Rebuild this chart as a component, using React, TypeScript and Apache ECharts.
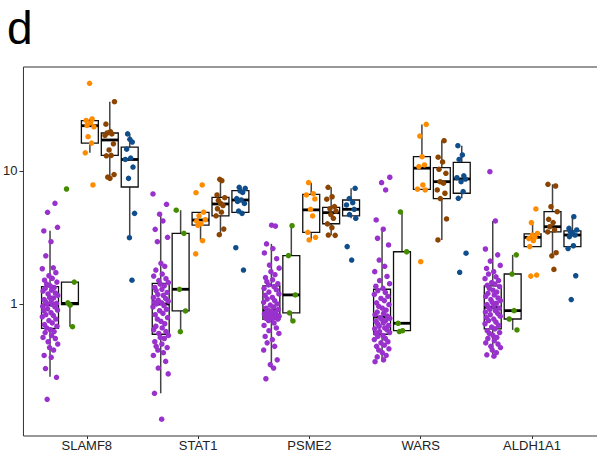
import React, { useEffect, useRef } from "react";
import * as echarts from "echarts";

const GENES = ["SLAMF8", "STAT1", "PSME2", "WARS", "ALDH1A1"];
const GROUP_COLORS = ["#9932CC", "#458B00", "#FF8C00", "#8B4500", "#104E8B"];

// Individual points per group, one list per gene (order of GENES)
const PURPLE_POINTS: number[][] = [
  [5.71, 4.89, 3.77, 3.54, 2.94, 2.3, 1.87, 1.84, 1.72, 1.63, 1.56, 1.51, 1.46, 1.41, 1.37,
   1.33, 1.31, 1.27, 1.25, 1.21, 1.19, 1.16, 1.12, 1.11, 1.08, 1.05, 1.04, 1.01, 1.0, 0.99,
   0.96, 0.95, 0.92, 0.9, 0.89, 0.86, 0.83, 0.82, 0.8, 0.77, 0.75, 0.72, 0.7, 0.68, 0.66,
   0.64, 0.62, 0.61, 0.58, 0.56, 0.55, 0.52, 0.5, 0.47, 0.45, 0.41, 0.397, 0.327, 0.281, 0.192],
  [6.72, 5.62, 4.73, 4.21, 3.64, 3.17, 2.94, 2.02, 1.92, 1.8, 1.68, 1.62, 1.55, 1.5, 1.45,
   1.41, 1.37, 1.33, 1.29, 1.26, 1.22, 1.18, 1.16, 1.12, 1.1, 1.07, 1.05, 1.03, 1.02, 1.0,
   0.97, 0.95, 0.91, 0.89, 0.85, 0.83, 0.79, 0.77, 0.74, 0.71, 0.68, 0.66, 0.64, 0.62, 0.6,
   0.58, 0.56, 0.55, 0.52, 0.5, 0.48, 0.47, 0.45, 0.43, 0.41, 0.37, 0.33, 0.298, 0.213, 0.136],
  [3.91, 3.85, 2.83, 2.61, 2.42, 2.19, 1.96, 1.86, 1.75, 1.66, 1.58, 1.52, 1.47, 1.42, 1.39,
   1.35, 1.31, 1.28, 1.23, 1.19, 1.16, 1.12, 1.09, 1.06, 1.03, 1.0, 0.98, 0.95, 0.93, 0.91,
   0.895, 0.88, 0.87, 0.86, 0.85, 0.84, 0.83, 0.82, 0.81, 0.8, 0.795, 0.785, 0.78, 0.775, 0.77,
   0.75, 0.72, 0.69, 0.66, 0.63, 0.6, 0.57, 0.54, 0.51, 0.48, 0.45, 0.38, 0.35, 0.33, 0.274],
  [8.97, 8.17, 7.2, 4.28, 3.65, 3.12, 2.78, 2.14, 1.92, 1.75, 1.61, 1.5, 1.42, 1.36, 1.31,
   1.26, 1.22, 1.18, 1.14, 1.1, 1.06, 1.02, 0.99, 0.96, 0.93, 0.9, 0.87, 0.85, 0.83, 0.81,
   0.79, 0.78, 0.77, 0.75, 0.74, 0.72, 0.71, 0.69, 0.68, 0.66, 0.65, 0.64, 0.62, 0.61, 0.6,
   0.58, 0.57, 0.55, 0.54, 0.52, 0.51, 0.49, 0.48, 0.46, 0.45, 0.43, 0.41, 0.4, 0.38, 0.368],
  [9.88, 4.21, 2.59, 2.34, 2.1, 1.95, 1.85, 1.75, 1.68, 1.6, 1.55, 1.5, 1.45, 1.41, 1.38,
   1.35, 1.31, 1.27, 1.23, 1.2, 1.17, 1.14, 1.11, 1.08, 1.06, 1.03, 1.01, 0.99, 0.97, 0.95,
   0.93, 0.91, 0.89, 0.87, 0.85, 0.83, 0.81, 0.79, 0.77, 0.75, 0.73, 0.71, 0.69, 0.67, 0.65,
   0.63, 0.61, 0.6, 0.58, 0.56, 0.55, 0.53, 0.51, 0.5, 0.48, 0.47, 0.45, 0.43, 0.415, 0.405],
];
const GREEN_POINTS: number[][] = [
  [7.32, 1.46, 1.02, 0.98, 0.675],
  [5.07, 3.4, 1.29, 0.886, 0.619],
  [3.88, 2.31, 1.17, 0.856, 0.745],
  [4.92, 2.47, 0.716, 0.63, 0.62],
  [2.34, 1.68, 0.891, 0.771, 0.638],
];
const ORANGE_POINTS: number[][] = [
  [45.6, 24.6, 24.0, 23.0, 22.0, 21.5, 18.1, 16.2, 13.7, 7.85],
  [7.85, 6.87, 4.9, 4.6, 4.3, 4.2, 4.0, 3.9, 2.99, 2.38],
  [8.17, 6.75, 6.6, 6.16, 5.15, 4.59, 3.46, 3.17, 3.03],
  [22.4, 18.3, 12.8, 11.1, 10.8, 7.85, 7.3, 7.2, 2.08],
  [5.18, 4.09, 3.4, 3.3, 3.17, 3.1, 2.99, 2.7, 1.65, 1.62],
];
const BROWN_POINTS: number[][] = [
  [33.2, 22.5, 19.8, 19.3, 19.0, 18.5, 16.0, 14.4, 13.1, 13.0, 9.4, 9.0, 8.8],
  [8.66, 8.45, 6.6, 6.3, 6.0, 5.7, 5.5, 5.2, 4.9, 4.6, 3.66, 3.32],
  [7.54, 6.4, 6.13, 5.4, 5.2, 5.0, 4.7, 4.41, 4.0, 3.75, 3.3, 3.28],
  [16.9, 12.7, 11.7, 10.3, 9.6, 8.3, 8.1, 7.2, 6.8, 6.2, 4.36, 3.03],
  [7.94, 7.71, 5.39, 4.94, 4.33, 4.09, 3.81, 3.6, 3.48, 2.43, 2.3, 1.82],
];
const BLUE_POINTS: number[][] = [
  [19.0, 17.3, 16.5, 14.6, 12.5, 12.2, 10.7, 8.8, 4.8, 3.15, 1.51],
  [7.54, 7.4, 7.1, 6.9, 6.2, 6.05, 5.9, 5.7, 5.0, 4.8, 2.65, 1.8],
  [7.41, 6.2, 5.78, 5.55, 5.15, 4.7, 4.41, 2.7, 2.14],
  [15.5, 13.2, 12.2, 9.2, 8.9, 8.7, 8.3, 7.0, 6.23, 2.41, 1.73],
  [4.53, 3.7, 3.6, 3.5, 3.4, 3.3, 3.21, 2.74, 2.61, 1.63, 1.08],
];

// Box statistics [whisker low, Q1, median, Q3, whisker high] per gene
const PURPLE_BOX: number[][] = [
  [0.284, 0.656, 0.983, 1.35, 3.56],
  [0.213, 0.592, 1.0, 1.43, 4.73],
  [0.329, 0.767, 0.9, 1.37, 2.83],
  [0.37, 0.592, 0.798, 1.29, 3.65],
  [0.41, 0.649, 0.944, 1.37, 4.21],
];
const GREEN_BOX: number[][] = [
  [0.675, 0.99, 1.01, 1.46, 1.46],
  [0.619, 0.886, 1.29, 3.4, 5.07],
  [0.745, 0.856, 1.17, 2.31, 3.88],
  [0.62, 0.63, 0.716, 2.47, 4.92],
  [0.638, 0.771, 0.891, 1.68, 2.34],
];
const ORANGE_BOX: number[][] = [
  [13.7, 16.2, 21.9, 23.9, 24.6],
  [2.99, 3.91, 4.28, 4.89, 4.9],
  [3.03, 3.46, 5.1, 6.68, 8.17],
  [7.28, 7.28, 10.5, 12.8, 22.4],
  [2.7, 2.7, 3.17, 3.36, 4.09],
];
const BROWN_BOX: number[][] = [
  [8.8, 13.1, 17.1, 19.3, 33.2],
  [3.32, 4.59, 5.65, 6.34, 8.66],
  [3.28, 4.01, 4.86, 5.33, 7.54],
  [3.03, 6.19, 8.31, 10.6, 16.9],
  [2.3, 3.48, 3.81, 4.94, 7.94],
];
const BLUE_BOX: number[][] = [
  [3.15, 7.58, 12.2, 15.1, 19.0],
  [4.89, 4.89, 6.05, 7.11, 7.54],
  [4.41, 4.59, 5.15, 6.05, 7.41],
  [6.23, 6.8, 8.71, 11.6, 15.5],
  [2.7, 2.7, 3.3, 3.54, 4.53],
];

const GROUP_POINTS = [PURPLE_POINTS, GREEN_POINTS, ORANGE_POINTS, BROWN_POINTS, BLUE_POINTS];
const GROUP_BOXES = [PURPLE_BOX, GREEN_BOX, ORANGE_BOX, BROWN_BOX, BLUE_BOX];

// layout constants
const DODGE = 0.18;
const BOX_W = 0.153;
const JITTER = [0.62, -0.31, 0.94, -0.78, 0.12, -0.53, 0.41, -0.97, 0.73, -0.14, 0.28, -0.69, 0.86, -0.42, 0.03, 0.51,
  -0.61, 0.19, -0.88, 0.66, -0.24, 0.97, -0.06, 0.45, -0.74, 0.15, -0.57, 0.81, -0.36, 0.33, -0.92];
const FONT = '"Liberation Sans", Arial, Helvetica, sans-serif';

export default function App() {
  const ref = useRef<HTMLDivElement>(null);
  useEffect(() => {
    const chart = echarts.init(ref.current!, null, { renderer: "svg" });
    const series: any[] = [];
    GROUP_BOXES.forEach((boxes, k) => {
      const off = (k - 2) * DODGE;
      series.push({
        type: "custom",
        xAxisIndex: 0,
        yAxisIndex: 0,
        silent: true,
        z: 2,
        data: boxes.map((b, g) => [g, b[0], b[1], b[2], b[3], b[4]]),
        encode: { x: 0, y: [1, 2, 3, 4, 5] },
        renderItem: (_params: any, api: any) => {
          const g = api.value(0) as number;
          const xc = g + off;
          const pMin = api.coord([xc, api.value(1)]);
          const pQ1 = api.coord([xc, api.value(2)]);
          const pMed = api.coord([xc, api.value(3)]);
          const pQ3 = api.coord([xc, api.value(4)]);
          const pMax = api.coord([xc, api.value(5)]);
          const xL = api.coord([xc - BOX_W / 2, api.value(3)])[0];
          const xR = api.coord([xc + BOX_W / 2, api.value(3)])[0];
          return {
            type: "group",
            children: [
              { type: "line", shape: { x1: pMax[0], y1: pMax[1], x2: pQ3[0], y2: pQ3[1] }, style: { stroke: "#444", lineWidth: 1.5 } },
              { type: "line", shape: { x1: pQ1[0], y1: pQ1[1], x2: pMin[0], y2: pMin[1] }, style: { stroke: "#444", lineWidth: 1.5 } },
              { type: "rect", shape: { x: xL, y: pQ3[1], width: xR - xL, height: pQ1[1] - pQ3[1] }, style: { fill: "#fff", stroke: "#111", lineWidth: 1.3 } },
              { type: "line", shape: { x1: xL, y1: pMed[1], x2: xR, y2: pMed[1] }, style: { stroke: "#000", lineWidth: 2.8 } },
            ],
          };
        },
      });
    });
    GROUP_POINTS.forEach((genes, k) => {
      const off = (k - 2) * DODGE;
      const spread = k === 0 ? 0.072 : 0.045;
      const data: number[][] = [];
      genes.forEach((vals, g) => {
        vals.forEach((v, i) => {
          const j = JITTER[(i + g * 7 + k * 11) % JITTER.length];
          data.push([g + off + j * spread, v]);
        });
      });
      series.push({
        type: "scatter",
        xAxisIndex: 0,
        yAxisIndex: 0,
        silent: true,
        z: 3,
        data,
        symbolSize: 5.5,
        itemStyle: { color: GROUP_COLORS[k], opacity: 1 },
      });
    });

    chart.setOption({
      animation: false,
      backgroundColor: "#fff",
      textStyle: { fontFamily: FONT },
      grid: [
        { left: 20, right: 1, top: 67, bottom: 20, show: true, borderColor: "#333", borderWidth: 1, backgroundColor: "transparent" },
        { left: 31.15, width: 556.5, top: 435, height: 1, show: false },
      ],
      xAxis: [
        { gridIndex: 0, type: "value", min: -0.6, max: 4.6, show: false, axisLine: { onZero: false } },
        {
          gridIndex: 1,
          type: "category",
          data: GENES,
          position: "bottom",
          axisLine: { show: false, onZero: false },
          axisTick: { show: true, alignWithLabel: true, length: 3, lineStyle: { color: "#333", width: 1 } },
          axisLabel: { margin: 3, fontSize: 13, color: "#222", fontFamily: FONT },
          splitLine: { show: false },
        },
      ],
      yAxis: [
        {
          gridIndex: 0,
          type: "log",
          logBase: 10,
          min: 0.1017,
          max: 60.5,
          position: "left",
          axisLine: { show: false, onZero: false },
          axisTick: { show: true, length: 4, lineStyle: { color: "#333", width: 1 } },
          axisLabel: {
            margin: 6,
            fontSize: 13,
            color: "#222",
            fontFamily: FONT,
            showMinLabel: false,
            showMaxLabel: false,
            formatter: (v: number) => String(Math.round(v)),
          },
          splitLine: { show: false },
        },
        { gridIndex: 1, type: "value", show: false, axisLine: { onZero: false } },
      ],
      graphic: [
        {
          type: "text",
          left: 7,
          top: 5,
          style: { text: "d", font: `46px ${FONT}`, fill: "#000" },
        },
      ],
      series,
    });
    return () => chart.dispose();
  }, []);
  return (
    <div style={{ position: "fixed", left: 0, top: 0, width: 597, height: 456, overflow: "hidden", background: "#fff" }}>
      <div ref={ref} style={{ width: 600, height: 456 }} />
    </div>
  );
}
